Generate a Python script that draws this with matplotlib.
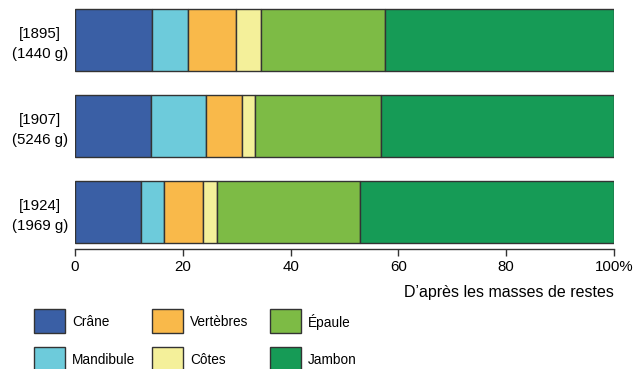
import matplotlib.pyplot as plt
from matplotlib.patches import Rectangle

plt.rcParams['font.family'] = ['Liberation Sans', 'DejaVu Sans']

years = ['[1895]\n(1440 g)', '[1907]\n(5246 g)', '[1924]\n(1969 g)']
parts = ['Crâne', 'Mandibule', 'Vertèbres', 'Côtes', 'Épaule', 'Jambon']
colors = ['#3a5fa5', '#6dcbdb', '#f9b94a', '#f4f09a', '#7dbb45', '#169b56']

# part shares (%) per year
craine = [14.2, 14.1, 12.3]
mandibule = [6.8, 10.2, 4.2]
vertebres = [8.8, 6.6, 7.2]
cotes = [4.8, 2.5, 2.6]
epaule = [22.9, 23.4, 26.6]
jambon = [42.5, 43.2, 47.1]
values = [craine, mandibule, vertebres, cotes, epaule, jambon]

fig = plt.figure(figsize=(6.34, 3.69), dpi=100)
ax = fig.add_axes([75 / 634, 1 - 249 / 369, 539 / 634, (249 - 4.7) / 369])

ypos = range(len(years))
left = [0, 0, 0]
for name, vals, col in zip(parts, values, colors):
    ax.barh(ypos, vals, left=left, height=0.72, color=col,
            edgecolor='#333333', linewidth=1.0, label=name)
    left = [l + v for l, v in zip(left, vals)]

ax.set_xlim(0, 100)
ax.set_ylim(2.433, -0.41)
ax.set_yticks(list(ypos))
ax.set_yticklabels(years, fontsize=10.8, multialignment='center', linespacing=1.55)
ax.tick_params(axis='y', length=0, pad=5)
ax.set_xticks([0, 20, 40, 60, 80, 100])
ax.set_xticklabels(['0', '20', '40', '60', '80', '100%'], fontsize=10.8)
ax.tick_params(axis='x', direction='out', length=5, width=1, color='#333333', pad=3)
for s in ['top', 'left', 'right']:
    ax.spines[s].set_visible(False)
ax.spines['bottom'].set_color('#333333')
ax.spines['bottom'].set_linewidth(1)

fig.text(614 / 634, 1 - 293 / 369, "D’après les masses de restes", ha='right',
         va='center', fontsize=11.5)

# legend, 3 columns x 2 rows
col_x = [34, 152, 270]
row_y = [309, 347]
for i, (name, col) in enumerate(zip(parts, colors)):
    cx = col_x[i // 2]
    ry = row_y[i % 2]
    fig.patches.append(Rectangle((cx / 634, 1 - (ry + 23.5) / 369), 31 / 634, 23.5 / 369,
                                 transform=fig.transFigure, facecolor=col,
                                 edgecolor='#333333', linewidth=1.0))
    fig.text((cx + 38) / 634, 1 - (ry + 13.5) / 369, name, ha='left', va='center',
             fontsize=9.8)

fig.savefig('out.png', dpi=100)
